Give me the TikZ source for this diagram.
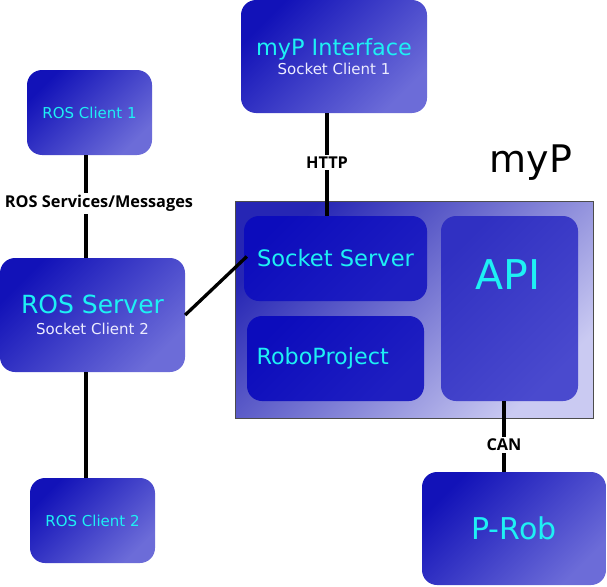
\documentclass[tikz,border=0pt]{standalone}
\usepackage{fontspec}
\setmainfont{DejaVu Sans}
\newfontfamily\lblfont{Open Sans}
\definecolor{boxdark}{HTML}{1212B8}
\definecolor{boxlight}{HTML}{6C6CD8}
\definecolor{txtcyan}{HTML}{1EF0F4}
\definecolor{subwhite}{HTML}{ECECFF}
\definecolor{mypdark}{HTML}{2626B4}
\definecolor{myplight}{HTML}{CACAF2}
\definecolor{innerdark}{HTML}{0C0CBC}
\definecolor{apidark}{HTML}{3030C2}
\definecolor{apilight}{HTML}{4A4ACE}
\newcommand{\subtxt}[1]{{\color{subwhite}\fontsize{15}{17}\selectfont #1}}
\begin{document}
\begin{tikzpicture}[
          x=1pt,
          y=1pt,
          bx/.style={rounded corners=15pt, top color=boxdark, bottom color=boxlight,
            shading angle=45, text=txtcyan, align=center, inner sep=0pt},
          inbx/.style={rounded corners=15pt, top color=innerdark, bottom color=innerdark!92!white,
            shading angle=45, text=txtcyan, inner sep=0pt},
          ln/.style={line width=3.3pt, black},
          lbl/.style={fill=white, inner sep=2pt, font=\lblfont\bfseries\fontsize{16.3}{18}\selectfont},
        ]
      \useasboundingbox (0,0) rectangle (607,-586);
      % outer myP box
      \node[draw=black!70, line width=0.8pt, top color=mypdark, bottom color=myplight,
            shading angle=45, minimum width=358, minimum height=217, inner sep=0pt]
            (myp) at (414,-309.5) {};
      \node[font=\fontsize{38}{40}\selectfont] (myptitle) at (531,-163) {myP};
      % clients and servers
      \node[bx, minimum width=125, minimum height=85, font=\fontsize{15}{17}\selectfont]
            (c1) at (89.5,-112.5) {ROS Client 1};
      \node[bx, minimum width=185, minimum height=114, font=\fontsize{25}{26}\selectfont]
            (srv) at (92.5,-315) {ROS Server\\[-5pt]\subtxt{Socket Client 2}};
      \node[bx, minimum width=125, minimum height=85, font=\fontsize{15}{17}\selectfont]
            (c2) at (92.5,-520.5) {ROS Client 2};
      \node[bx, minimum width=186, minimum height=113, font=\fontsize{22.4}{24}\selectfont,
            text depth=0pt] (ifc) at (334,-56.5) {myP Interface\\[-5pt]\subtxt{Socket Client 1}};
      \node[bx, minimum width=184, minimum height=113, font=\fontsize{30}{32}\selectfont]
            (prob) at (514,-528.5) {P-Rob};
      % inside myP
      \node[inbx, minimum width=183, minimum height=85, font=\fontsize{22.6}{24}\selectfont]
            (sock) at (335.5,-258.5) {Socket Server};
      \node[inbx, minimum width=177, minimum height=85, font=\fontsize{22.3}{24}\selectfont,
            text width=158, align=left] (robo) at (335.5,-358.5) {RoboProject};
      \node[rounded corners=15pt, top color=apidark, bottom color=apilight, shading angle=45,
            minimum width=137, minimum height=185, inner sep=0pt] (api) at (509.5,-308.5) {};
      \node[text=txtcyan, font=\fontsize{41}{43}\selectfont] (apitxt) at (508,-275) {API};
      % connectors
      \coordinate (xl) at (86,0);
      \coordinate (xh) at (327,0);
      \coordinate (xc) at (504,0);
      \draw[ln] (c1.south -| xl) -- node[lbl, pos=0.47, xshift=13pt] {ROS Services/Messages} (srv.north -| xl);
      \draw[ln] (srv.south -| xl) -- (c2.north -| xl);
      \draw[ln] (ifc.south -| xh) -- node[lbl, pos=0.48] {HTTP} (sock.north -| xh);
      \draw[ln] (srv.east) -- ([shift={(3,2)}]sock.west);
      \draw[ln] (api.south -| xc) -- node[lbl, pos=0.62] {CAN} (prob.north -| xc);
    \end{tikzpicture}
\end{document}
